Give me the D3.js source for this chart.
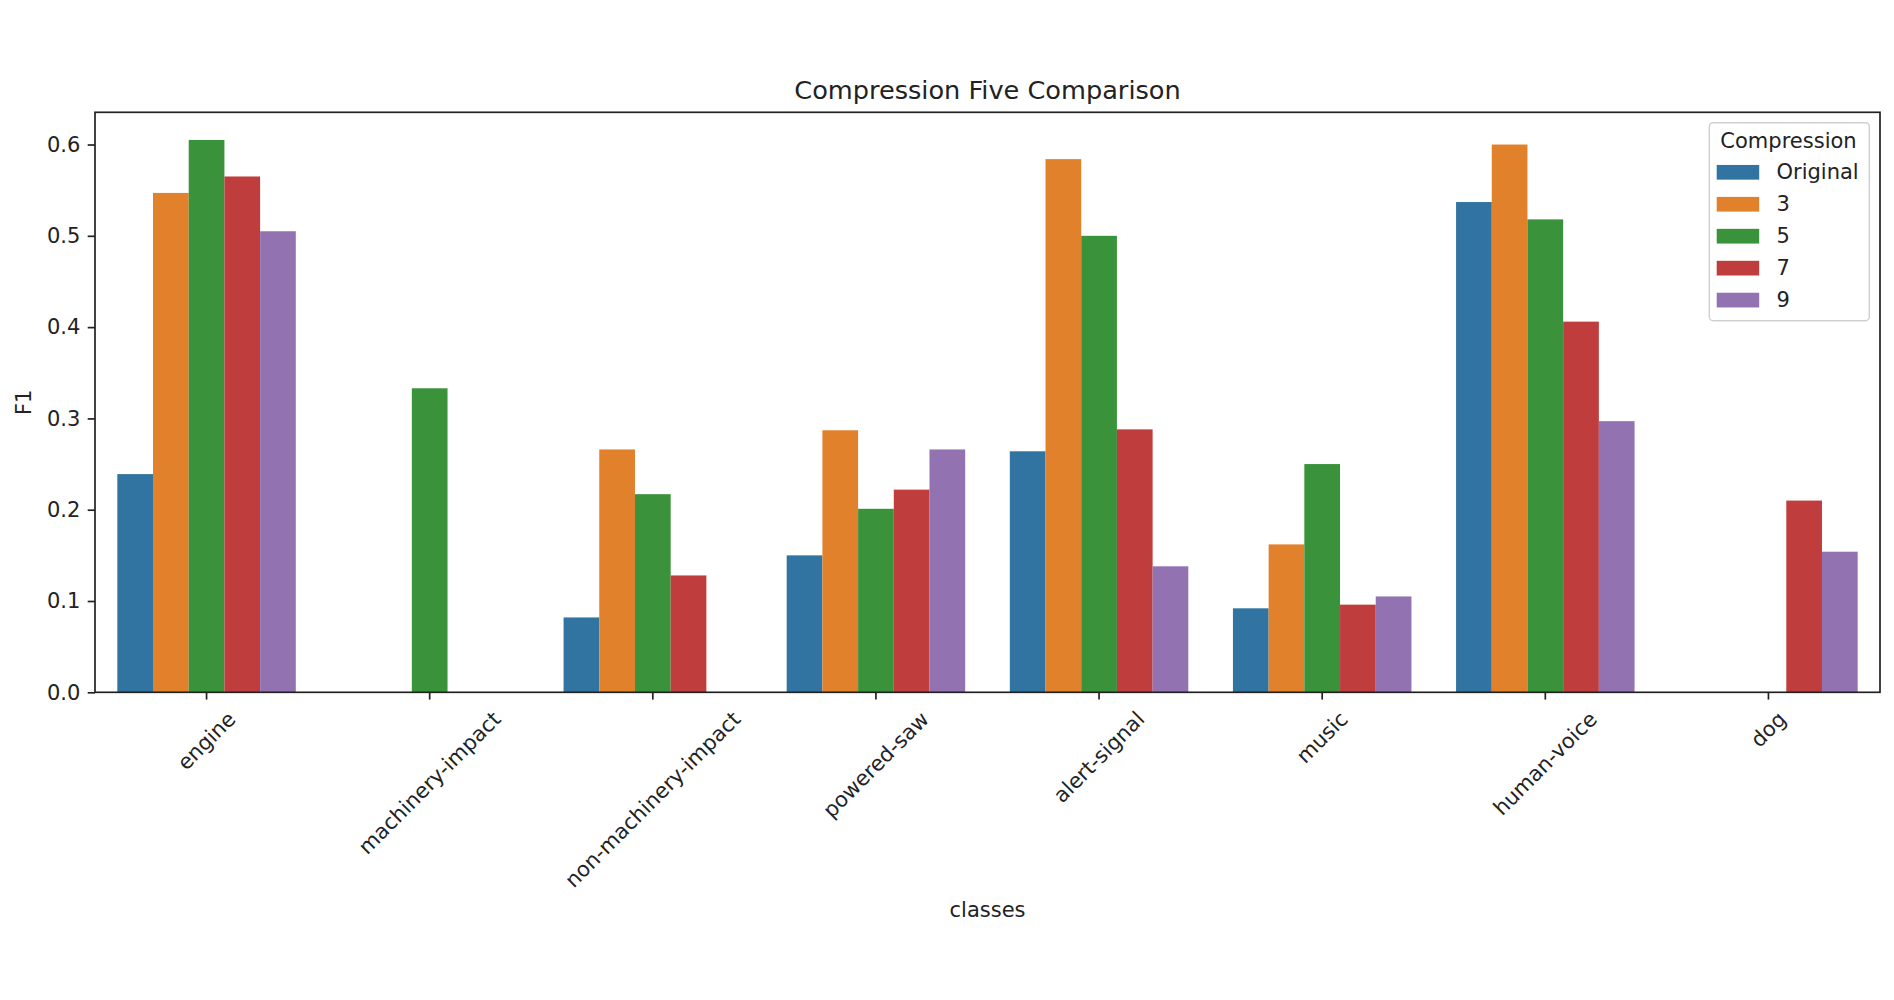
<!DOCTYPE html>
<html>
<head>
<meta charset="utf-8">
<script src="https://cdn.jsdelivr.net/npm/d3@7"></script>
<style>
  html, body { margin: 0; padding: 0; background: #ffffff; }
  svg { display: block; font-family: "DejaVu Sans", sans-serif; }
</style>
</head>
<body>
<svg id="chart" width="1894" height="1000"></svg>
<script>
// ---- data ----
const categories = ["engine", "machinery-impact", "non-machinery-impact", "powered-saw",
                    "alert-signal", "music", "human-voice", "dog"];
const seriesNames = ["Original", "3", "5", "7", "9"];
const valuesOriginal = [0.239, 0.000, 0.082, 0.150, 0.264, 0.092, 0.537, 0.000];
const values3        = [0.547, 0.000, 0.266, 0.287, 0.584, 0.162, 0.600, 0.000];
const values5        = [0.605, 0.333, 0.217, 0.201, 0.500, 0.250, 0.518, 0.000];
const values7        = [0.565, 0.000, 0.128, 0.222, 0.288, 0.096, 0.406, 0.210];
const values9        = [0.505, 0.000, 0.000, 0.266, 0.138, 0.105, 0.297, 0.154];
const yTicks = [0.0, 0.1, 0.2, 0.3, 0.4, 0.5, 0.6];
const colors = ["#3274a1", "#e1812c", "#3a923a", "#c03d3e", "#9372b2"];

(function () {
const seriesValues = [valuesOriginal, values3, values5, values7, values9];
const rows = [];
categories.forEach((c, i) => {
  seriesNames.forEach((s, j) => rows.push({cat: c, series: s, value: seriesValues[j][i]}));
});

// ---- layout ----
const svg = d3.select("#chart");
const pLeft = 95, pRight = 1880, pTop = 112.3, pBottom = 692.3;
const fs = 21, titleFs = 25.6;
const tickLen = 7.3, tickPad = 7.3;
const textColor = "#222";

const x = d3.scaleBand().domain(categories).range([pLeft, pRight]).paddingInner(0).paddingOuter(0);
const xInner = d3.scaleBand().domain(seriesNames)
  .range([x.bandwidth() * 0.1, x.bandwidth() * 0.9]).padding(0);
const y = d3.scaleLinear().domain([0, 0.6353]).range([pBottom, pTop]);
const color = d3.scaleOrdinal().domain(seriesNames).range(colors);

// bars
svg.append("g").selectAll("rect").data(rows).join("rect")
  .attr("x", d => x(d.cat) + xInner(d.series))
  .attr("width", xInner.bandwidth())
  .attr("y", d => y(d.value))
  .attr("height", d => y(0) - y(d.value))
  .attr("fill", d => color(d.series));

// y axis
const yAxis = svg.append("g").attr("transform", `translate(${pLeft},0)`)
  .call(d3.axisLeft(y).tickValues(yTicks).tickFormat(d3.format(".1f"))
        .tickSize(tickLen).tickPadding(tickPad));
yAxis.select(".domain").remove();
yAxis.selectAll(".tick line").attr("stroke", "#222").attr("stroke-width", 1.7);
yAxis.selectAll(".tick text").attr("font-size", fs).attr("fill", textColor)
  .attr("font-family", "DejaVu Sans");

// x axis
const xAxis = svg.append("g").attr("transform", `translate(0,${pBottom})`)
  .call(d3.axisBottom(x).tickSize(tickLen).tickFormat(""));
xAxis.select(".domain").remove();
xAxis.selectAll(".tick line").attr("stroke", "#222").attr("stroke-width", 1.7);

// rotated x labels (matplotlib-like: rotated bbox centred on tick, top at pad)
const labelG = svg.append("g");
categories.forEach(c => {
  const t = labelG.append("text")
    .attr("font-size", fs).attr("fill", textColor)
    .attr("text-anchor", "middle").attr("dominant-baseline", "central")
    .text(c);
  const w = t.node().getComputedTextLength();
  const h = fs * 1.164;
  const cx = x(c) + x.bandwidth() / 2;
  const cy = pBottom + tickLen + tickPad + (w + h) / (2 * Math.SQRT2);
  t.attr("transform", `translate(${cx},${cy}) rotate(-45)`);
});

// frame
svg.append("rect").attr("x", pLeft).attr("y", pTop)
  .attr("width", pRight - pLeft).attr("height", pBottom - pTop)
  .attr("fill", "none").attr("stroke", "#222").attr("stroke-width", 1.7);

// title and axis labels
svg.append("text").attr("x", (pLeft + pRight) / 2).attr("y", 98.5)
  .attr("text-anchor", "middle").attr("font-size", titleFs).attr("fill", textColor)
  .text("Compression Five Comparison");
svg.append("text").attr("x", (pLeft + pRight) / 2).attr("y", 917)
  .attr("text-anchor", "middle").attr("font-size", fs).attr("fill", textColor)
  .text("classes");
svg.append("text").attr("transform", `translate(31,${(pTop + pBottom) / 2}) rotate(-90)`)
  .attr("text-anchor", "middle").attr("font-size", fs).attr("fill", textColor)
  .text("F1");

// legend
const lg = svg.append("g");
lg.append("rect").attr("x", 1709.3).attr("y", 122.7).attr("width", 160).attr("height", 198)
  .attr("rx", 4).attr("fill", "#ffffff").attr("fill-opacity", 0.8)
  .attr("stroke", "#d0d0d0").attr("stroke-width", 1.5);
lg.append("text").attr("x", 1788.5).attr("y", 147.5).attr("text-anchor", "middle")
  .attr("font-size", fs).attr("fill", textColor).text("Compression");
seriesNames.forEach((s, i) => {
  const cy = 172.3 + i * 31.95;
  lg.append("rect").attr("x", 1716.7).attr("y", cy - 7.35).attr("width", 42.5).attr("height", 14.7)
    .attr("fill", color(s));
  lg.append("text").attr("x", 1776.5).attr("y", cy).attr("dominant-baseline", "central")
    .attr("font-size", fs).attr("fill", textColor).text(s);
});
})();
</script>
</body>
</html>
